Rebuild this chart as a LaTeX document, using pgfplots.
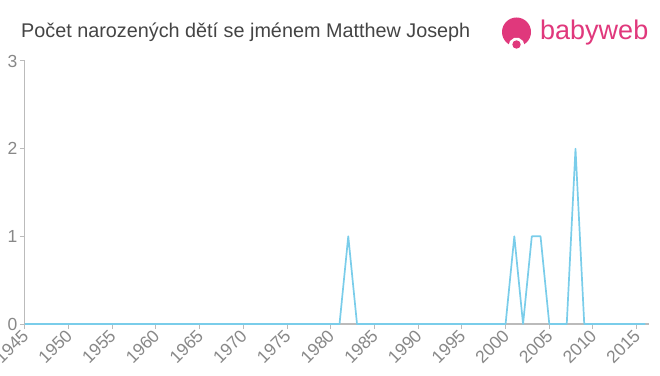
\documentclass[border=0pt]{standalone}
\usepackage{fontspec}
\setmainfont{Liberation Sans}
\usepackage{pgfplots}
\pgfplotsset{compat=1.18}
\definecolor{linec}{HTML}{7ACDEA}
\definecolor{axisc}{HTML}{BBBBBB}
\definecolor{tickc}{HTML}{888888}
\definecolor{titlec}{HTML}{444444}
\definecolor{pinkc}{HTML}{E0387C}
\begin{document}
\begin{tikzpicture}[x=1pt,y=1pt]
\path[use as bounding box] (0,0) rectangle (660,375);
\begin{axis}[
  at={(24.9pt,51pt)}, anchor=south west,
  scale only axis, width=624pt, height=263pt,
  xmin=1945, xmax=2016.4, ymin=0, ymax=3,
  axis lines*=left,
  axis line style={axisc, line width=1.2pt},
  xtick={1945,1950,...,2015}, ytick={0,1,2,3},
  tick style={axisc, line width=1pt},
  tick align=outside, major tick length=5pt,
  tick label style={tickc, font=\fontsize{17.5}{17.5}\selectfont},
  /pgf/number format/assume math mode=true,
  xticklabel style={rotate=45, anchor=east, xshift=1pt, yshift=-3pt},
  xticklabel={\pgfmathprintnumber[1000 sep={}]{\tick}},
  yticklabel style={xshift=1pt},
  clip=false,
]
\addplot[linec, line width=1.7pt, line join=round] coordinates {
(1945,0)(1981,0)(1982,1)(1983,0)(2000,0)(2001,1)(2002,0)(2003,1)(2004,1)(2005,0)(2007,0)(2008,2)(2009,0)(2016,0)
};
\end{axis}
\node[anchor=base west, text=titlec, font=\fontsize{19.8}{19.8}\selectfont, inner sep=0pt] at (21,337) {Počet narozených dětí se jménem Matthew Joseph};
% logo
\fill[pinkc] (516.5,343) circle (14.5);
\fill[white] (508,328) -- (510,334) -- (514,337) -- (519,337) -- (523,334) -- (525,328) -- (522,326) -- (511,326) -- cycle;
\fill[pinkc] (516.5,330.5) circle (4.2);
\node[anchor=base west, text=pinkc, font=\fontsize{27}{27}\selectfont, inner sep=0pt] at (540,335) {babyweb};
\end{tikzpicture}
\end{document}
